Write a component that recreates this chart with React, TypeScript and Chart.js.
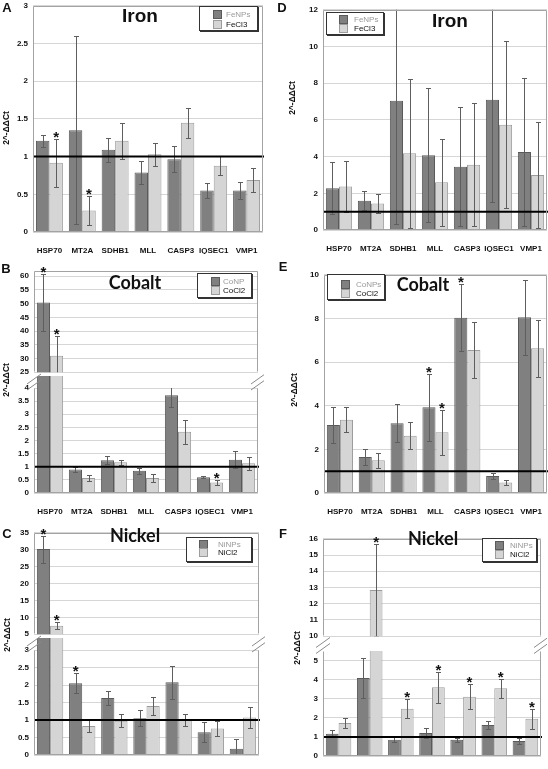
import React, { useEffect, useRef } from 'react';
import { Chart, registerables } from 'chart.js';

Chart.register(...registerables);

const FONT = "'Liberation Sans', Arial, Helvetica, sans-serif";
const TITLE2 = "Lato, 'Open Sans', sans-serif";
const DARK = '#808080';
const DARK_B = '#5a5a5a';
const LIGHT = '#d5d5d5';
const LIGHT_B = '#9c9c9c';

const GENES = ['HSP70', 'MT2A', 'SDHB1', 'MLL', 'CASP3', 'IQSEC1', 'VMP1'];

// A – Iron
const A_NP = [1.21, 1.35, 1.09, 0.79, 0.965, 0.55, 0.55];
const A_NP_ERR = [0.08, 1.25, 0.16, 0.15, 0.17, 0.1, 0.11];
const A_SALT = [0.92, 0.285, 1.21, 1.03, 1.45, 0.88, 0.69];
const A_SALT_ERR = [0.32, 0.19, 0.24, 0.15, 0.2, 0.13, 0.16];
const A_NP_STAR: number[] = [];
const A_SALT_STAR = [0, 1];

// D – Iron
const D_NP = [2.28, 1.6, 7.05, 4.08, 3.45, 7.1, 4.25];
const D_NP_ERR = [1.43, 0.5, 6.75, 3.65, 3.25, 5.6, 4.05];
const D_SALT = [2.37, 1.45, 4.18, 2.6, 3.55, 5.73, 3.0];
const D_SALT_ERR = [1.4, 0.5, 4.05, 2.38, 3.35, 4.55, 2.88];
const D_NP_STAR: number[] = [];
const D_SALT_STAR: number[] = [];

// B – Cobalt
const B_NP = [50.4, 0.9, 1.25, 0.85, 3.72, 0.6, 1.27];
const B_NP_ERR = [10.3, 0.1, 0.15, 0.12, 0.46, 0.04, 0.32];
const B_SALT = [31.0, 0.57, 1.17, 0.57, 2.33, 0.4, 1.13];
const B_SALT_ERR = [7.1, 0.12, 0.1, 0.16, 0.47, 0.1, 0.25];
const B_NP_STAR = [0];
const B_SALT_STAR = [0, 5];

// E – Cobalt
const E_NP = [3.12, 1.65, 3.2, 3.93, 8.03, 0.78, 8.05];
const E_NP_ERR = [0.82, 0.35, 0.87, 1.53, 1.53, 0.15, 1.72];
const E_SALT = [3.36, 1.5, 2.62, 2.78, 6.55, 0.48, 6.63];
const E_SALT_ERR = [0.56, 0.35, 0.62, 1.03, 1.28, 0.1, 1.3];
const E_NP_STAR = [3, 4];
const E_SALT_STAR = [3];

// C – Nickel
const C_NP = [30.2, 2.05, 1.63, 1.05, 2.08, 0.65, 0.18];
const C_NP_ERR = [4.0, 0.28, 0.2, 0.23, 0.47, 0.28, 0.27];
const C_SALT = [7.5, 0.83, 0.98, 1.4, 1.0, 0.76, 1.07];
const C_SALT_ERR = [1.0, 0.17, 0.18, 0.26, 0.18, 0.22, 0.3];
const C_NP_STAR = [0, 1];
const C_SALT_STAR = [0];

// F – Nickel
const F_NP = [1.17, 4.08, 0.85, 1.2, 0.85, 1.62, 0.78];
const F_NP_ERR = [0.2, 1.05, 0.12, 0.27, 0.1, 0.22, 0.15];
const F_SALT = [1.73, 12.85, 2.47, 3.6, 3.1, 3.55, 1.95];
const F_SALT_ERR = [0.25, 2.85, 0.5, 0.8, 0.65, 0.5, 0.52];
const F_NP_STAR: number[] = [];
const F_SALT_STAR = [1, 2, 3, 4, 5, 6];

const decor = {
  id: 'decor',
  afterDatasetsDraw(chart: any, _args: any, opts: any) {
    const { ctx, chartArea: a } = chart;
    const ys = chart.scales.y;
    const sets = chart.data.datasets;
    // error bars
    ctx.save();
    ctx.beginPath();
    ctx.rect(a.left, a.top, a.right - a.left, a.bottom - a.top);
    ctx.clip();
    ctx.strokeStyle = '#5e5e5e';
    ctx.lineWidth = 1;
    sets.forEach((ds: any, i: number) => {
      chart.getDatasetMeta(i).data.forEach((el: any, j: number) => {
        const v = ds.data[j];
        const e = ds.errors[j];
        const x = Math.round(el.x) + 0.5;
        const y1 = Math.round(ys.getPixelForValue(v + e)) + 0.5;
        const y2 = Math.round(ys.getPixelForValue(v - e)) + 0.5;
        ctx.beginPath();
        ctx.moveTo(x, y1);
        ctx.lineTo(x, y2);
        ctx.moveTo(x - 2.5, y1);
        ctx.lineTo(x + 2.5, y1);
        ctx.moveTo(x - 2.5, y2);
        ctx.lineTo(x + 2.5, y2);
        ctx.stroke();
      });
    });
    ctx.restore();
    // reference line at 1
    if (opts.refLine) {
      const yy = ys.getPixelForValue(1);
      ctx.save();
      ctx.strokeStyle = '#000';
      ctx.lineWidth = 2;
      ctx.beginPath();
      ctx.moveTo(a.left, yy);
      ctx.lineTo(a.right + 1, yy);
      ctx.stroke();
      ctx.restore();
    }
    // frame
    ctx.save();
    ctx.strokeStyle = '#a3a3a3';
    ctx.lineWidth = 1;
    const L = Math.round(a.left) + 0.5;
    const R = Math.round(a.right) - 0.5;
    const T = Math.round(a.top) + 0.5;
    const B = Math.round(a.bottom) - 0.5;
    ctx.beginPath();
    ctx.moveTo(L, T);
    ctx.lineTo(L, B);
    ctx.moveTo(R, T);
    ctx.lineTo(R, B);
    if (opts.frame !== 'bottom') {
      ctx.moveTo(L, T);
      ctx.lineTo(R, T);
    }
    if (opts.frame !== 'top') {
      ctx.moveTo(L, B);
      ctx.lineTo(R, B);
    }
    ctx.stroke();
    // break marks
    if (opts.gap) {
      const yc = a.top - opts.gap / 2;
      ctx.strokeStyle = '#8a8a8a';
      for (const x of [a.left, a.right]) {
        for (const d of [-3, 3]) {
          ctx.beginPath();
          ctx.moveTo(x - 7, yc + 5 + d);
          ctx.lineTo(x + 7, yc - 5 + d);
          ctx.stroke();
        }
      }
    }
    ctx.restore();
    // asterisks
    ctx.save();
    ctx.fillStyle = '#111';
    ctx.font = `bold 15px ${FONT}`;
    ctx.textAlign = 'center';
    ctx.textBaseline = 'alphabetic';
    sets.forEach((ds: any, i: number) => {
      chart.getDatasetMeta(i).data.forEach((el: any, j: number) => {
        if (!ds.stars.includes(j)) return;
        const top = ds.data[j] + ds.errors[j];
        if (top < ys.min || top > ys.max) return;
        ctx.fillText('*', el.x, ys.getPixelForValue(top) + 3);
      });
    });
    ctx.restore();
  },
};

type SegProps = {
  plot: number[];
  min: number;
  max: number;
  step: number;
  showX: boolean;
  frame: 'full' | 'top' | 'bottom';
  refLine: boolean;
  gap?: number;
  fillGap?: boolean;
  np: number[];
  npErr: number[];
  salt: number[];
  saltErr: number[];
  npStar: number[];
  saltStar: number[];
  npLabel: string;
  saltLabel: string;
};

function Segment(p: SegProps) {
  const ref = useRef<HTMLCanvasElement>(null);
  const [l, t, r, b] = p.plot;
  const yw = 32;
  const padTop = p.gap ? p.gap + 6 : 8;
  const xh = p.showX ? 22 : 6;
  const cl = l - yw;
  const ct = t - padTop;
  const cr = Math.min(r + 6, 548);
  const cw = cr - cl;
  const padRight = cr - r;
  const ch = b - ct + xh;

  useEffect(() => {
    if (!ref.current) return;
    const clip: any = p.fillGap && p.gap ? { left: 0, right: 0, bottom: 0, top: p.gap } : 0;
    const tickFont = { family: FONT, size: 8, weight: 'bold' as const };
    const chart = new Chart(ref.current, {
      type: 'bar',
      data: {
        labels: GENES,
        datasets: [
          {
            label: p.npLabel,
            data: p.np,
            backgroundColor: DARK,
            borderColor: DARK_B,
            borderWidth: 1,
            categoryPercentage: 0.82,
            barPercentage: 1,
            clip,
            errors: p.npErr,
            stars: p.npStar,
          } as any,
          {
            label: p.saltLabel,
            data: p.salt,
            backgroundColor: LIGHT,
            borderColor: LIGHT_B,
            borderWidth: 1,
            categoryPercentage: 0.82,
            barPercentage: 1,
            clip,
            errors: p.saltErr,
            stars: p.saltStar,
          } as any,
        ],
      },
      options: {
        responsive: false,
        animation: false,
        devicePixelRatio: 1,
        layout: {
          autoPadding: false,
          padding: { top: padTop, right: padRight, bottom: p.showX ? 0 : xh, left: 0 },
        },
        plugins: {
          legend: { display: false },
          tooltip: { enabled: false },
          decor: { refLine: p.refLine, frame: p.frame, gap: p.gap },
        } as any,
        scales: {
          x: {
            display: p.showX,
            offset: true,
            grid: { display: false },
            border: { display: false },
            ticks: { font: tickFont, color: '#111', padding: 6, maxRotation: 0, autoSkip: false },
            afterFit: (s: any) => {
              s.height = p.showX ? xh : 0;
            },
          },
          y: {
            min: p.min,
            max: p.max,
            grid: { color: '#d6d6d6', drawTicks: false },
            border: { display: false },
            ticks: {
              stepSize: p.step,
              includeBounds: false,
              font: tickFont,
              color: '#111',
              padding: 5,
              callback: (v: any) => String(Math.round(Number(v) * 100) / 100),
            },
            afterFit: (s: any) => {
              s.width = yw;
            },
          },
        },
      } as any,
      plugins: [decor as any],
    });
    return () => chart.destroy();
  }, []);

  return (
    <canvas
      ref={ref}
      width={cw}
      height={ch}
      style={{ position: 'absolute', left: cl, top: ct, width: cw, height: ch }}
    />
  );
}

function Legend(props: { box: number[]; rows: number[]; sw: number; tx: number; labels: string[] }) {
  const [l, t, w, h] = props.box;
  return (
    <div
      style={{
        position: 'absolute',
        left: l,
        top: t,
        width: w,
        height: h,
        boxSizing: 'border-box',
        border: '1px solid #333',
        boxShadow: '1px 1px 0 #333',
        background: '#fff',
      }}
    >
      {props.labels.map((lab, i) => (
        <React.Fragment key={i}>
          <div
            style={{
              position: 'absolute',
              left: props.sw - 1,
              top: props.rows[i] - 5,
              width: 7,
              height: 7,
              background: i ? LIGHT : DARK,
              border: `1px solid ${i ? LIGHT_B : DARK_B}`,
            }}
          />
          <div
            style={{
              position: 'absolute',
              left: props.tx - 1,
              top: props.rows[i] - 1,
              transform: 'translateY(-50%)',
              font: `8px ${FONT}`,
              lineHeight: '9px',
              color: i ? '#111' : '#9a9a9a',
              whiteSpace: 'nowrap',
            }}
          >
            {lab}
          </div>
        </React.Fragment>
      ))}
    </div>
  );
}

function Text(props: { x: number; y: number; text: string; font: string; rotate?: boolean; color?: string }) {
  return (
    <div
      style={{
        position: 'absolute',
        left: props.x,
        top: props.y,
        transform: `translate(-50%, -50%)${props.rotate ? ' rotate(-90deg)' : ''}`,
        font: props.font,
        color: props.color || '#111',
        whiteSpace: 'nowrap',
        lineHeight: 1,
      }}
    >
      {props.text}
    </div>
  );
}

const YTITLE = '2^-ΔΔCt';

export default function App() {
  useEffect(() => {
    document.body.style.margin = '0';
  }, []);
  const YT = `bold 8.5px ${FONT}`;
  const LET = `bold 13px ${FONT}`;
  return (
    <div style={{ position: 'absolute', left: 0, top: 0, width: 548, height: 769, overflow: 'hidden', background: '#fff' }}>
      {/* A */}
      <Segment plot={[33, 4, 263, 232]} min={0} max={3} step={0.5} showX frame="full" refLine
        np={A_NP} npErr={A_NP_ERR} salt={A_SALT} saltErr={A_SALT_ERR} npStar={A_NP_STAR} saltStar={A_SALT_STAR}
        npLabel="FeNPs" saltLabel="FeCl3" />
      {/* D */}
      <Segment plot={[323, 8, 547, 230]} min={0} max={12} step={2} showX frame="full" refLine
        np={D_NP} npErr={D_NP_ERR} salt={D_SALT} saltErr={D_SALT_ERR} npStar={D_NP_STAR} saltStar={D_SALT_STAR}
        npLabel="FeNPs" saltLabel="FeCl3" />
      {/* B */}
      <Segment plot={[34, 269, 258, 376]} min={25} max={62} step={5} showX={false} frame="top" refLine={false}
        np={B_NP} npErr={B_NP_ERR} salt={B_SALT} saltErr={B_SALT_ERR} npStar={B_NP_STAR} saltStar={B_SALT_STAR}
        npLabel="CoNP" saltLabel="CoCl2" />
      <Segment plot={[34, 388, 258, 493]} min={0} max={4} step={0.5} showX frame="bottom" refLine gap={12} fillGap
        np={B_NP} npErr={B_NP_ERR} salt={B_SALT} saltErr={B_SALT_ERR} npStar={B_NP_STAR} saltStar={B_SALT_STAR}
        npLabel="CoNP" saltLabel="CoCl2" />
      {/* E */}
      <Segment plot={[324, 273, 547, 493]} min={0} max={10} step={2} showX frame="full" refLine
        np={E_NP} npErr={E_NP_ERR} salt={E_SALT} saltErr={E_SALT_ERR} npStar={E_NP_STAR} saltStar={E_SALT_STAR}
        npLabel="CoNPs" saltLabel="CoCl2" />
      {/* C */}
      <Segment plot={[34, 531, 259, 638]} min={5} max={35} step={5} showX={false} frame="top" refLine={false}
        np={C_NP} npErr={C_NP_ERR} salt={C_SALT} saltErr={C_SALT_ERR} npStar={C_NP_STAR} saltStar={C_SALT_STAR}
        npLabel="NiNPs" saltLabel="NiCl2" />
      <Segment plot={[34, 650, 259, 755]} min={0} max={3} step={0.5} showX frame="bottom" refLine gap={12} fillGap
        np={C_NP} npErr={C_NP_ERR} salt={C_SALT} saltErr={C_SALT_ERR} npStar={C_NP_STAR} saltStar={C_SALT_STAR}
        npLabel="NiNPs" saltLabel="NiCl2" />
      {/* F */}
      <Segment plot={[323, 537, 541, 640]} min={10} max={16} step={1} showX={false} frame="top" refLine={false}
        np={F_NP} npErr={F_NP_ERR} salt={F_SALT} saltErr={F_SALT_ERR} npStar={F_NP_STAR} saltStar={F_SALT_STAR}
        npLabel="NiNPs" saltLabel="NiCl2" />
      <Segment plot={[323, 651, 541, 756]} min={0} max={5.5} step={1} showX frame="bottom" refLine gap={11}
        np={F_NP} npErr={F_NP_ERR} salt={F_SALT} saltErr={F_SALT_ERR} npStar={F_NP_STAR} saltStar={F_SALT_STAR}
        npLabel="NiNPs" saltLabel="NiCl2" />

      {/* Titles */}
      <Text x={140} y={15} text="Iron" font={`bold 19px ${FONT}`} />
      <Text x={450} y={20} text="Iron" font={`bold 19px ${FONT}`} />
      <Text x={135} y={282} text="Cobalt" font={`bold 18px ${TITLE2}`} />
      <Text x={423} y={284} text="Cobalt" font={`bold 18px ${TITLE2}`} />
      <Text x={135} y={535} text="Nickel" font={`bold 18px ${TITLE2}`} />
      <Text x={433} y={538} text="Nickel" font={`bold 18px ${TITLE2}`} />

      {/* Panel letters */}
      <Text x={7} y={7} text="A" font={LET} />
      <Text x={282} y={7} text="D" font={LET} />
      <Text x={6} y={268} text="B" font={LET} />
      <Text x={283} y={266} text="E" font={LET} />
      <Text x={7} y={533} text="C" font={LET} />
      <Text x={283} y={533} text="F" font={LET} />

      {/* Y titles */}
      <Text x={6} y={128} text={YTITLE} font={YT} rotate />
      <Text x={292} y={98} text={YTITLE} font={YT} rotate />
      <Text x={6} y={380} text={YTITLE} font={YT} rotate />
      <Text x={294} y={390} text={YTITLE} font={YT} rotate />
      <Text x={7} y={635} text={YTITLE} font={YT} rotate />
      <Text x={297} y={648} text={YTITLE} font={YT} rotate />

      {/* Legends */}
      <Legend box={[199, 6, 59, 25]} rows={[8, 18]} sw={14} tx={27} labels={['FeNPs', 'FeCl3']} />
      <Legend box={[326, 12, 58, 23]} rows={[7, 16]} sw={13} tx={28} labels={['FeNPs', 'FeCl3']} />
      <Legend box={[197, 273, 55, 25]} rows={[8, 17]} sw={14} tx={26} labels={['CoNP', 'CoCl2']} />
      <Legend box={[327, 274, 58, 26]} rows={[10, 19]} sw={14} tx={29} labels={['CoNPs', 'CoCl2']} />
      <Legend box={[186, 537, 66, 25]} rows={[7, 15]} sw={13} tx={32} labels={['NiNPs', 'NiCl2']} />
      <Legend box={[482, 538, 55, 24]} rows={[7, 16]} sw={13} tx={28} labels={['NiNPs', 'NiCl2']} />
    </div>
  );
}
